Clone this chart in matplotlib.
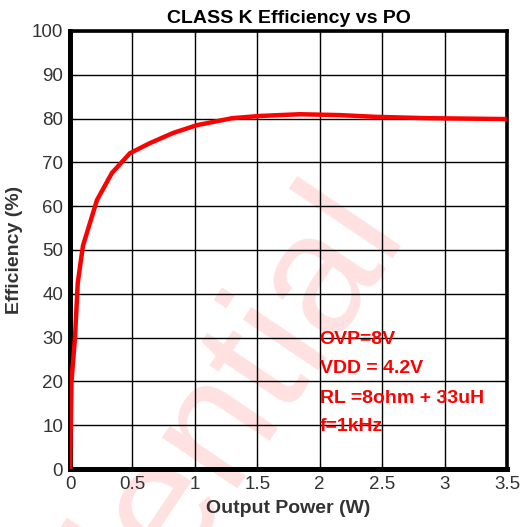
import matplotlib
matplotlib.use("Agg")
import matplotlib.pyplot as plt

plt.rcParams['font.family'] = ['Liberation Sans', 'DejaVu Sans']

power_w = [0.0, 0.012, 0.04, 0.062, 0.104, 0.216, 0.336, 0.48, 0.64, 0.824, 1.016,
           1.30, 1.52, 1.84, 2.16, 2.45, 2.86, 3.48]
efficiency = [0.0, 20.0, 30.0, 42.5, 51.0, 61.4, 67.6, 72.1, 74.4, 76.7, 78.5,
              80.1, 80.6, 81.0, 80.8, 80.4, 80.1, 79.9]
x_ticks = [0, 0.5, 1, 1.5, 2, 2.5, 3, 3.5]
x_tick_labels = ['0', '0.5', '1', '1.5', '2', '2.5', '3', '3.5']
y_ticks = [0, 10, 20, 30, 40, 50, 60, 70, 80, 90, 100]
notes = ['OVP=8V', 'VDD = 4.2V', 'RL =8ohm + 33uH', 'f=1kHz']
note_y = [29.5, 23.0, 16.2, 9.6]

fig = plt.figure(figsize=(5.24, 5.27), dpi=100)
ax = fig.add_axes([70/524, 58/527, 437/524, 438/527])
ax.set_facecolor('none')

ax.plot(power_w, efficiency, color='#ff0000', lw=3.2, zorder=3, solid_joinstyle='round')

ax.set_xlim(0, 3.5)
ax.set_ylim(0, 100)
ax.set_xticks(x_ticks)
ax.set_xticklabels(x_tick_labels)
ax.set_yticks(y_ticks)
ax.grid(True, color='black', lw=1.0)
ax.tick_params(direction='in', length=4, colors='black', labelcolor='#333333',
               labelsize=13.5, pad=5, top=True, right=True)
for s in ax.spines.values():
    s.set_color('black')
ax.spines['left'].set_linewidth(3.6)
ax.spines['bottom'].set_linewidth(3.6)
ax.spines['top'].set_linewidth(2.6)
ax.spines['right'].set_linewidth(2.6)

ax.set_title('CLASS K Efficiency vs PO', fontsize=14, fontweight='bold', pad=6)
ax.set_xlabel('Output Power (W)', fontsize=14, fontweight='bold', color='#333333', labelpad=5)
ax.set_ylabel('Efficiency (%)', fontsize=14, fontweight='bold', color='#333333', labelpad=6)

for t, yv in zip(notes, note_y):
    ax.text(2.0, yv, t, color='#ff0000', fontsize=14, fontweight='bold', va='center', ha='left', zorder=4)

fig.text(404/524, 1 - 228/527, 'Confidential', color='#ff0000', alpha=0.12, fontsize=124,
         rotation=56, rotation_mode='anchor', ha='right', va='baseline', zorder=-1)

fig.savefig('out.png', dpi=100)
